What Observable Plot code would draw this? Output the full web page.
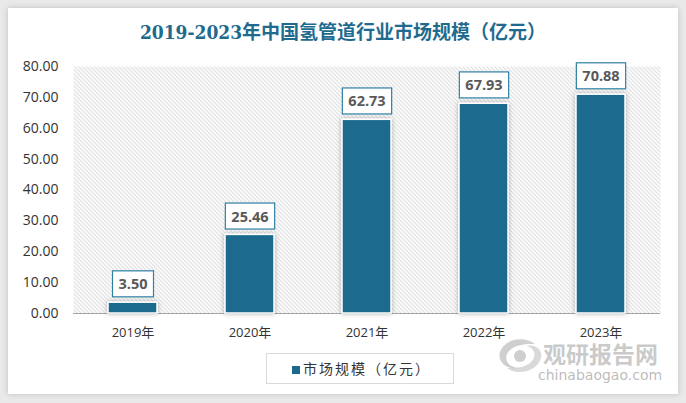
<!DOCTYPE html>
<html>
<head>
<meta charset="utf-8">
<script src="https://cdn.jsdelivr.net/npm/d3@7"></script>
<script src="https://cdn.jsdelivr.net/npm/@observablehq/plot@0.6"></script>
<style>
  html, body { margin: 0; padding: 0; }
  #wrap { position: relative; width: 686px; height: 403px; background: #e9e9e9; overflow: hidden; font-family: "Noto Sans CJK SC", "Open Sans", sans-serif; }
  #card { position: absolute; left: 8px; top: 8px; width: 670px; height: 386px; background: #fff; box-shadow: 0 0 6px rgba(0,0,0,0.18); }
  #title { position: absolute; left: 0; top: 17px; width: 686px; text-align: center; font-size: 19px; font-weight: bold; color: #1f6b8f; letter-spacing: 0px; font-family: "DejaVu Serif Condensed", "Noto Sans CJK SC", serif; }
  #chart { position: absolute; left: 0; top: 48px; }
  #legend { position: absolute; left: 266px; top: 353px; width: 186px; height: 29px; border: 1px solid #d9d9d9; background: #fff; box-sizing: content-box; }
  #legend .sw { position: absolute; left: 25px; top: 12px; width: 8px; height: 8px; background: #1b6a8e; }
  #legend .lb { position: absolute; left: 36px; top: 4px; font-size: 14px; letter-spacing: 2px; color: #333; white-space: nowrap; }
  #wm1 { position: absolute; left: 543px; top: 341px; font-size: 23px; line-height: 24px; font-weight: bold; color: rgba(150,150,150,0.5); white-space: nowrap; }
  #wm2 { position: absolute; left: 538px; top: 368px; font-size: 14px; line-height: 15px; color: rgba(150,150,150,0.65); white-space: nowrap; font-family: "DejaVu Sans", sans-serif; }
  #wmlogo { position: absolute; left: 495px; top: 336px; }
</style>
</head>
<body>
<div id="wrap">
  <div id="card"></div>
  <div id="title">2019-2023年中国氢管道行业市场规模（亿元）</div>
  <div id="chart"></div>
  <div id="legend"><div class="sw"></div><div class="lb">市场规模（亿元）</div></div>
  <svg id="wmlogo" width="50" height="40" viewBox="0 0 50 40">
    <path d="M40,8 C30,0 10,2 5,16 C2,26 12,34 22,32 C12,30 8,22 14,15 C20,8 32,8 40,8 Z" fill="rgba(160,160,160,0.5)"/>
    <path d="M12,32 C22,40 42,36 46,22 C48,14 40,8 32,10 C40,13 42,20 36,26 C30,32 20,32 12,32 Z" fill="rgba(170,170,170,0.45)"/>
    <circle cx="25" cy="20" r="6" fill="rgba(160,160,160,0.5)"/>
  </svg>
  <div id="wm1">观研报告网</div>
  <div id="wm2">chinabaogao.com</div>
</div>
<script>
const years = ["2019年", "2020年", "2021年", "2022年", "2023年"];
const values = [3.50, 25.46, 62.73, 67.93, 70.88];
const yTicks = [0, 10, 20, 30, 40, 50, 60, 70, 80];

const data = years.map((y, i) => ({year: y, value: values[i]}));
const barColor = "#1b6a8e";

const chart = Plot.plot({
  width: 686,
  height: 297,
  marginLeft: 73,
  marginRight: 26,
  marginTop: 18,
  marginBottom: 32,
  style: {fontFamily: "'Open Sans', 'Noto Sans CJK SC', sans-serif", background: "transparent", overflow: "visible"},
  x: {domain: years, paddingInner: 0.58, paddingOuter: 0.29, label: null},
  y: {domain: [0, 80], ticks: yTicks, label: null},
  marks: [
    Plot.frame({fill: "url(#hatch)", stroke: null}),
    Plot.axisY({ticks: yTicks, tickFormat: d3.format(".2f"), tickSize: 0, tickPadding: 15, fontSize: 14, fill: "#333", label: null}),
    Plot.axisX({tickSize: 0, tickPadding: 14, fontSize: 13, fill: "#333", label: null}),
    Plot.ruleY([0], {stroke: "#a6a6a6", strokeWidth: 1.2}),
    Plot.barY(data, {x: "year", y: "value", fill: barColor, stroke: "#fff", strokeWidth: 1.5, className: "bars"}),
    Plot.text(data, {x: "year", y: "value", text: d => d.value.toFixed(2), dy: -18, lineAnchor: "middle", fontSize: 14.5, fontWeight: "bold", fill: "#595959", className: "vlabels"})
  ]
});

document.getElementById("chart").appendChild(chart);

const svg = d3.select(chart);
const defs = svg.insert("defs", ":first-child");
const pat = defs.append("pattern").attr("id", "hatch").attr("patternUnits", "userSpaceOnUse").attr("width", 4).attr("height", 4);
pat.append("path").attr("d", "M-1,-1 L5,5 M3,-1 L5,1 M-1,3 L1,5").attr("stroke", "#c8c8c8").attr("stroke-width", 1);
const f = defs.append("filter").attr("id", "shadow").attr("x", "-30%").attr("y", "-30%").attr("width", "160%").attr("height", "160%");
f.append("feDropShadow").attr("dx", 0).attr("dy", 0).attr("stdDeviation", 2.5).attr("flood-color", "#000").attr("flood-opacity", 0.3);
svg.selectAll("g.bars").attr("filter", "url(#shadow)");

// label boxes around value texts (same transform as the text)
svg.selectAll("g.vlabels text").each(function() {
  const bb = this.getBBox();
  const padX = 6, h = 26;
  const cy = bb.y + bb.height / 2;
  d3.select(this.parentNode).insert("rect", () => this)
    .attr("transform", this.getAttribute("transform"))
    .attr("x", bb.x - padX).attr("y", cy - h / 2)
    .attr("width", bb.width + 2 * padX).attr("height", h)
    .attr("fill", "#fff").attr("stroke", "#2e7fa3").attr("stroke-width", 1.2);
});
</script>
</body>
</html>
